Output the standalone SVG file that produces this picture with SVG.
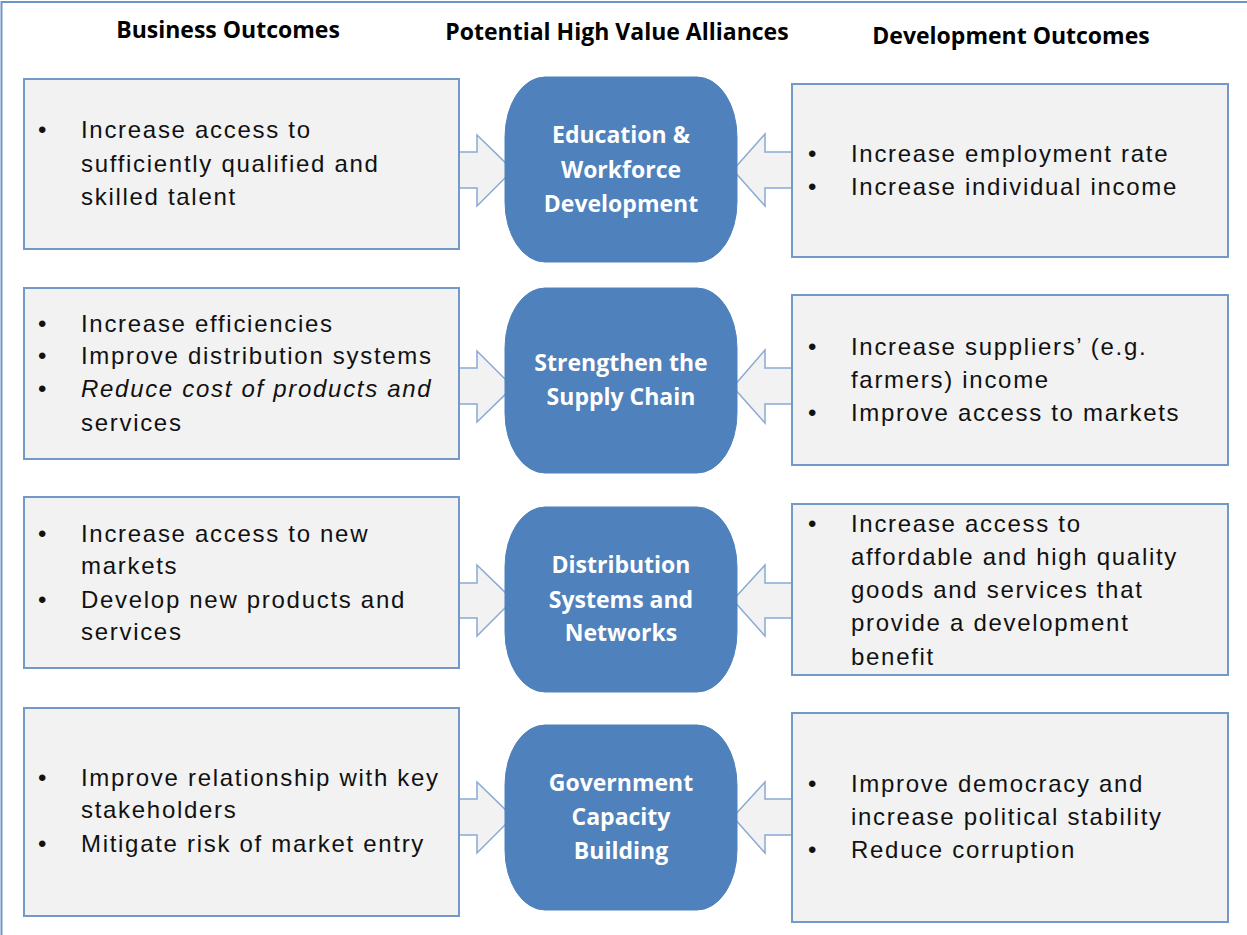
<svg xmlns="http://www.w3.org/2000/svg" width="1247" height="935" viewBox="0 0 1247 935">
<style>
.hdr{font-family:"Open Sans","Noto Sans",sans-serif;font-weight:700;font-size:23px;fill:#000;text-anchor:middle}
.box{fill:#f2f2f2;stroke:#7399c9;stroke-width:2}
.alli{fill:#4f81bd;stroke:#4f81bd;stroke-width:1}
.ctxt{font-family:"Open Sans","Noto Sans",sans-serif;font-weight:700;font-size:23px;fill:#fff;text-anchor:middle}
.body{font-family:"Liberation Sans",Arial,sans-serif;font-size:24px;letter-spacing:1.7px;fill:#111}
.it{font-style:italic}
.arr{fill:#f2f2f2;stroke:#8aaad4;stroke-width:1.5}
.frame{fill:none;stroke:#6d94c8;stroke-width:2}
</style>
<rect x="0" y="0" width="1247" height="935" fill="#fff"/>
<path class="frame" d="M1.5,935 V2 H1247"/>

<g id="headers">
<text class="hdr" x="228" y="38">Business Outcomes</text>
<text class="hdr" x="617" y="40">Potential High Value Alliances</text>
<text class="hdr" x="1011" y="44">Development Outcomes</text>
</g>

<g id="connectors">
<path class="arr" d="M459,152 H477 V135 L513,170 L477,206 V188 H459"/>
<path class="arr" d="M792,152 H765 V134 L733,170 L765,206 V188 H792"/>
<path class="arr" d="M459,368 H477 V351 L513,387 L477,422 V404 H459"/>
<path class="arr" d="M792,368 H765 V350 L733,387 L765,423 V404 H792"/>
<path class="arr" d="M459,583 H477 V565 L513,600 L477,636 V618 H459"/>
<path class="arr" d="M792,583 H765 V565 L733,600 L765,636 V618 H792"/>
<path class="arr" d="M459,799 H477 V782 L513,817 L477,853 V835 H459"/>
<path class="arr" d="M792,799 H765 V782 L733,817 L765,853 V835 H792"/>
</g>

<g id="b1">
<rect class="box" x="24" y="79" width="435" height="170"/>
<text class="body" x="38" y="138">•</text>
<text class="body" x="81" y="138">Increase access to</text>
<text class="body" x="81" y="172">sufficiently qualified and</text>
<text class="body" x="81" y="205">skilled talent</text>
</g>
<g id="b2">
<rect class="box" x="24" y="288" width="435" height="171"/>
<text class="body" x="38" y="332">•</text>
<text class="body" x="81" y="332">Increase efficiencies</text>
<text class="body" x="38" y="364">•</text>
<text class="body" x="81" y="364">Improve distribution systems</text>
<text class="body" x="38" y="397">•</text>
<text class="body it" x="81" y="397">Reduce cost of products and</text>
<text class="body" x="81" y="431">services</text>
</g>
<g id="b3">
<rect class="box" x="24" y="497" width="435" height="171"/>
<text class="body" x="38" y="542">•</text>
<text class="body" x="81" y="542">Increase access to new</text>
<text class="body" x="81" y="574">markets</text>
<text class="body" x="38" y="608">•</text>
<text class="body" x="81" y="608">Develop new products and</text>
<text class="body" x="81" y="640">services</text>
</g>
<g id="b4">
<rect class="box" x="24" y="708" width="435" height="208"/>
<text class="body" x="38" y="786">•</text>
<text class="body" x="81" y="786">Improve relationship with key</text>
<text class="body" x="81" y="818">stakeholders</text>
<text class="body" x="38" y="852">•</text>
<text class="body" x="81" y="852">Mitigate risk of market entry</text>
</g>

<g id="a1">
<rect class="alli" x="505" y="77" width="232" height="185" rx="40" ry="60"/>
<text class="ctxt" x="621" y="143">Education &amp;</text>
<text class="ctxt" x="621" y="178">Workforce</text>
<text class="ctxt" x="621" y="212">Development</text>
</g>
<g id="a2">
<rect class="alli" x="505" y="288" width="232" height="185" rx="40" ry="60"/>
<text class="ctxt" x="621" y="371">Strengthen the</text>
<text class="ctxt" x="621" y="405">Supply Chain</text>
</g>
<g id="a3">
<rect class="alli" x="505" y="507" width="232" height="185" rx="40" ry="60"/>
<text class="ctxt" x="621" y="573">Distribution</text>
<text class="ctxt" x="621" y="608">Systems and</text>
<text class="ctxt" x="621" y="641">Networks</text>
</g>
<g id="a4">
<rect class="alli" x="505" y="725" width="232" height="185" rx="40" ry="60"/>
<text class="ctxt" x="621" y="791">Government</text>
<text class="ctxt" x="621" y="825">Capacity</text>
<text class="ctxt" x="621" y="859">Building</text>
</g>

<g id="d1">
<rect class="box" x="792" y="84" width="436" height="173"/>
<text class="body" x="808" y="162">•</text>
<text class="body" x="851" y="162">Increase employment rate</text>
<text class="body" x="808" y="195">•</text>
<text class="body" x="851" y="195">Increase individual income</text>
</g>
<g id="d2">
<rect class="box" x="792" y="295" width="436" height="170"/>
<text class="body" x="808" y="355">•</text>
<text class="body" x="851" y="355">Increase suppliers’ (e.g.</text>
<text class="body" x="851" y="388">farmers) income</text>
<text class="body" x="808" y="421">•</text>
<text class="body" x="851" y="421">Improve  access to markets</text>
</g>
<g id="d3">
<rect class="box" x="792" y="504" width="436" height="171"/>
<text class="body" x="808" y="532">•</text>
<text class="body" x="851" y="532">Increase access to</text>
<text class="body" x="851" y="565">affordable and high quality</text>
<text class="body" x="851" y="598">goods and services that</text>
<text class="body" x="851" y="631">provide a development</text>
<text class="body" x="851" y="665">benefit</text>
</g>
<g id="d4">
<rect class="box" x="792" y="713" width="436" height="209"/>
<text class="body" x="808" y="792">•</text>
<text class="body" x="851" y="792">Improve democracy and</text>
<text class="body" x="851" y="825">increase political stability</text>
<text class="body" x="808" y="858">•</text>
<text class="body" x="851" y="858">Reduce corruption</text>
</g>
</svg>
